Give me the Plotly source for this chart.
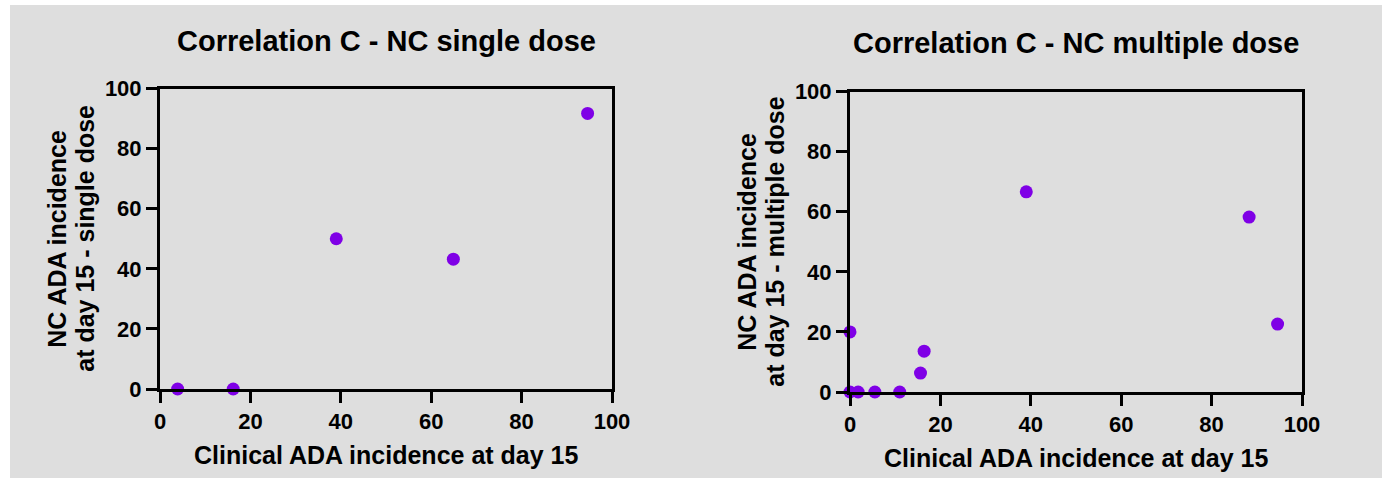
import plotly.graph_objects as go

# ---- data ----
single_x = [3.9, 16.2, 39.0, 64.9, 94.6]
single_y = [0.0, 0.0, 50.0, 43.2, 91.7]

multi_x = [0.0, 0.0, 1.8, 5.5, 11.0, 15.6, 16.4, 39.0, 88.3, 94.6]
multi_y = [20.0, 0.0, 0.0, 0.0, 0.0, 6.3, 13.6, 66.6, 58.2, 22.6]

titles = ["Correlation C - NC single dose", "Correlation C - NC multiple dose"]
x_title = "Clinical ADA incidence at day 15"
y_titles = [["NC ADA incidence", "at day 15 - single dose"],
            ["NC ADA incidence", "at day 15 - multiple dose"]]
tick_vals = [0, 20, 40, 60, 80, 100]

W, H = 1382, 483
FONT = "Liberation Sans, Arial, Helvetica, sans-serif"
PURPLE = "#7f00e6"
BG = "#dedede"


def px_x(p):
    return p / W


def px_y(p):
    return 1 - p / H


# panel pixel boxes (left, top, right, bottom)
boxes = [(160, 88.5, 612, 389), (850, 91.5, 1302, 392)]

fig = go.Figure()

for i, (xs, ys) in enumerate([(single_x, single_y), (multi_x, multi_y)]):
    sfx = "" if i == 0 else "2"
    fig.add_trace(go.Scatter(
        x=xs, y=ys, mode="markers",
        marker=dict(color=PURPLE, size=13, line=dict(width=0)),
        cliponaxis=False, showlegend=False,
        xaxis="x" + sfx, yaxis="y" + sfx,
    ))

axis_common = dict(
    range=[0, 100], tickvals=tick_vals, ticks="outside", ticklen=11, tickwidth=3,
    tickcolor="black", showline=True, linewidth=3, linecolor="black", mirror=True,
    showgrid=False, zeroline=False, automargin=False,
    tickfont=dict(family=FONT, size=22, color="black", weight="bold"),
)

layout = dict(
    width=W, height=H, margin=dict(l=0, r=0, t=0, b=0),
    template="none", paper_bgcolor="white", plot_bgcolor="rgba(0,0,0,0)",
    showlegend=False,
    shapes=[dict(type="rect", xref="paper", yref="paper", layer="below",
                 x0=px_x(10), x1=1.0, y0=px_y(478), y1=px_y(5),
                 fillcolor=BG, line=dict(width=0))],
    annotations=[],
)

for i, (l, t, r, b) in enumerate(boxes):
    sfx = "" if i == 0 else "2"
    layout["xaxis" + sfx] = dict(axis_common, domain=[px_x(l), px_x(r)],
                                 anchor="y" + sfx)
    layout["yaxis" + sfx] = dict(axis_common, domain=[px_y(b), px_y(t)],
                                 anchor="x" + sfx)
    cx = (l + r) / 2
    cy = (t + b) / 2
    layout["annotations"] += [
        dict(text=titles[i], xref="paper", yref="paper", x=px_x(cx), y=px_y(41 + 2 * i),
             xanchor="center", yanchor="middle", showarrow=False,
             font=dict(family=FONT, size=29, color="black", weight="bold")),
        dict(text=x_title, xref="paper", yref="paper", x=px_x(cx), y=px_y(b + 66),
             xanchor="center", yanchor="middle", showarrow=False,
             font=dict(family=FONT, size=25, color="black", weight="bold")),
    ]
    for j, line in enumerate(y_titles[i]):
        layout["annotations"].append(
            dict(text=line, xref="paper", yref="paper", x=px_x(l - 103 + 28 * j),
                 y=px_y(cy), xanchor="center", yanchor="middle", showarrow=False,
                 textangle=-90,
                 font=dict(family=FONT, size=25, color="black", weight="bold")))

fig.update_layout(layout)
fig.write_html("out.html")
